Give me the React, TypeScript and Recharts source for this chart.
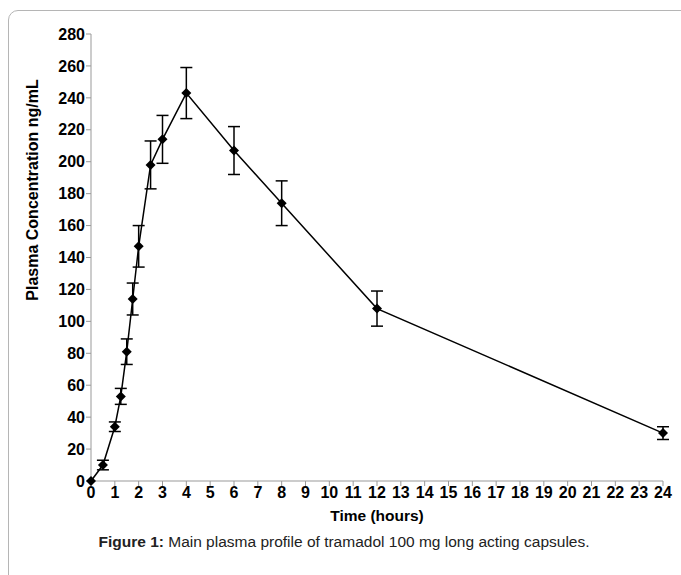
import React from 'react'
import { LineChart, Line, XAxis, YAxis, ErrorBar } from 'recharts'

// sampling times (hours)
const times = [0, 0.5, 1, 1.25, 1.5, 1.75, 2, 2.5, 3, 4, 6, 8, 12, 24]
// mean plasma concentration (ng/mL)
const concentrations = [0, 10, 34, 53, 81, 114, 147, 198, 214, 243, 207, 174, 108, 30]
// standard deviation
const deviations = [0, 3, 3, 5, 8, 10, 13, 15, 15, 16, 15, 14, 11, 4]

const xTicks = Array.from({ length: 25 }, (_, i) => i)
const yTicks = [0, 20, 40, 60, 80, 100, 120, 140, 160, 180, 200, 220, 240, 260, 280]

const data = times.map((t, i) => ({ t, c: concentrations[i], sd: deviations[i] }))

const Diamond = (props: any) => {
  const { cx, cy } = props
  if (cx == null || cy == null) return null
  const r = 5
  return (
    <polygon
      points={`${cx},${cy - r} ${cx + r},${cy} ${cx},${cy + r} ${cx - r},${cy}`}
      fill="#000"
    />
  )
}

const font = 'Liberation Sans, Arial, sans-serif'
const tickStyle = { fontFamily: font, fontSize: 16, fontWeight: 700, fill: '#000' }

export default function App() {
  return (
    <div style={{ position: 'absolute', left: 0, top: 0, width: 681, height: 575, background: '#fff', overflow: 'hidden' }}>
      <div
        style={{
          position: 'absolute', left: 8, top: 10, width: 700, height: 600,
          border: '1px solid #b5b5b5', borderTopLeftRadius: 10,
        }}
      />
      <div style={{ position: 'absolute', left: 0, top: 0 }}>
        <LineChart width={681} height={500} data={data} margin={{ top: 34, right: 18, left: 0, bottom: 0 }}>
          <XAxis
            dataKey="t"
            type="number"
            domain={[0, 24]}
            ticks={xTicks}
            interval={0}
            height={19}
            stroke="#999"
            tickSize={5}
            tickMargin={1}
            tick={tickStyle}
          />
          <YAxis
            type="number"
            domain={[0, 280]}
            ticks={yTicks}
            interval={0}
            width={91}
            stroke="#999"
            tickSize={5}
            tickMargin={1}
            tick={tickStyle}
          />
          <Line
            dataKey="c"
            stroke="#000"
            strokeWidth={1.5}
            dot={<Diamond />}
            activeDot={false}
            isAnimationActive={false}
          >
            <ErrorBar dataKey="sd" width={6} stroke="#000" strokeWidth={1.5} direction="y" />
          </Line>
        </LineChart>
      </div>
      <div
        style={{
          position: 'absolute', left: 33, top: 190, transform: 'translate(-50%, -50%) rotate(-90deg)',
          whiteSpace: 'nowrap', fontFamily: font, fontSize: 16, fontWeight: 700,
        }}
      >
        Plasma Concentration ng/mL
      </div>
      <div
        style={{
          position: 'absolute', left: 377, top: 516, transform: 'translate(-50%, -50%)',
          whiteSpace: 'nowrap', fontFamily: font, fontSize: 15.5, fontWeight: 700,
        }}
      >
        Time (hours)
      </div>
      <div
        style={{
          position: 'absolute', left: 344, top: 542, transform: 'translate(-50%, -50%)',
          whiteSpace: 'nowrap', fontFamily: font, fontSize: 15.5, color: '#222',
        }}
      >
        <b>Figure 1:</b> Main plasma profile of tramadol 100 mg long acting capsules.
      </div>
    </div>
  )
}
